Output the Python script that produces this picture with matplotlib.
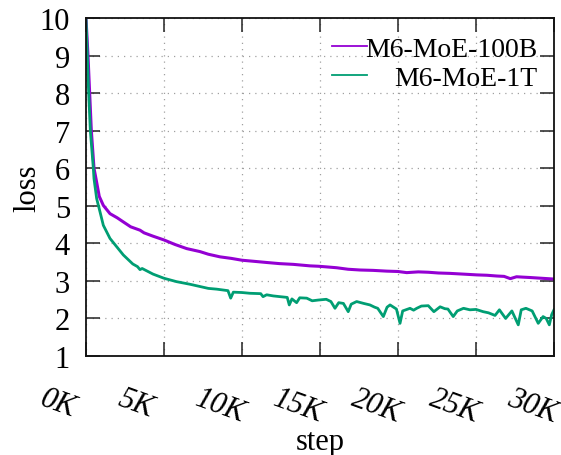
import matplotlib
matplotlib.use("Agg")
from matplotlib import pyplot as plt
from matplotlib import transforms

# loss curves (step, loss)
steps_100b = [0, 128, 235, 342, 513, 641, 850, 1111, 1538, 2000, 2393, 2864, 3462, 3718,
              4300, 5000, 5700, 6453, 7308, 7840, 8590, 9300, 10000, 10800, 11580, 12400,
              13290, 14360, 14890, 15500, 16070, 16800, 17560, 18400, 19270, 20000, 20560,
              21300, 21940, 22600, 23330, 24200, 25040, 25700, 26330, 26800, 27200, 27600,
              28000, 28460, 29200, 29960]
loss_100b = [10.0, 9.0, 8.0, 7.0, 6.0, 5.72, 5.25, 5.01, 4.79, 4.68, 4.57, 4.44, 4.35, 4.28,
             4.19, 4.09, 3.97, 3.86, 3.78, 3.71, 3.64, 3.60, 3.55, 3.52, 3.49, 3.46,
             3.44, 3.40, 3.39, 3.37, 3.35, 3.31, 3.29, 3.28, 3.26, 3.25, 3.22,
             3.24, 3.23, 3.21, 3.20, 3.18, 3.16, 3.15, 3.13, 3.12, 3.06, 3.11,
             3.10, 3.09, 3.07, 3.05]

steps_1t = [0, 85, 171, 278, 470, 513, 684, 897, 1111, 1538, 2393, 3000, 3300, 3462, 3600,
            4300, 5000, 5800, 6667, 7840, 8378, 9100, 9275, 9445, 10000, 10510, 11200, 11350,
            11580, 12000, 12440, 12900, 13030, 13200, 13500, 13700, 14150, 14500, 14890, 15400,
            15700, 15960, 16200, 16500, 16810, 17000, 17350, 17800, 18200, 18500, 18700, 19060,
            19300, 19490, 19900, 20130, 20300, 20770, 21000, 21200, 21500, 21940, 22300, 22700,
            23000, 23200, 23540, 23800, 24200, 24610, 25000, 25460, 25800, 26220, 26500, 26900,
            27300, 27710, 27900, 28200, 28600, 28990, 29300, 29500, 29700, 29850, 30000]
loss_1t = [10.0, 9.0, 8.0, 7.0, 6.0, 5.72, 5.19, 4.84, 4.48, 4.13, 3.69, 3.45, 3.38, 3.30, 3.33,
           3.18, 3.07, 2.98, 2.91, 2.80, 2.78, 2.74, 2.54, 2.70, 2.69, 2.67, 2.66, 2.58,
           2.63, 2.60, 2.58, 2.56, 2.36, 2.52, 2.42, 2.55, 2.54, 2.47, 2.49, 2.51,
           2.45, 2.27, 2.42, 2.40, 2.18, 2.38, 2.45, 2.40, 2.36, 2.30, 2.27, 2.05,
           2.30, 2.36, 2.25, 1.87, 2.20, 2.27, 2.22, 2.27, 2.33, 2.34, 2.18, 2.31,
           2.26, 2.25, 2.05, 2.20, 2.27, 2.23, 2.24, 2.18, 2.15, 2.08, 2.23, 2.00,
           2.20, 1.83, 2.23, 2.27, 2.20, 1.87, 2.05, 2.00, 1.83, 2.10, 2.23]

series_names = ["M6-MoE-100B", "M6-MoE-1T"]
series_colors = ["#9400d3", "#009e73"]

xtick_vals = [0, 5000, 10000, 15000, 20000, 25000, 30000]
xtick_labels = ["0K", "5K", "10K", "15K", "20K", "25K", "30K"]
ytick_vals = list(range(1, 11))

plt.rcParams["font.family"] = ["Liberation Serif", "DejaVu Serif"]

fig = plt.figure(figsize=(5.61, 4.56), dpi=100)
ax = fig.add_axes([86 / 561, 1 - 357 / 456, 468 / 561, 338 / 456])

ax.plot(steps_100b, loss_100b, color=series_colors[0], lw=2.2, solid_joinstyle="round")
ax.plot(steps_1t, loss_1t, color=series_colors[1], lw=2.0, solid_joinstyle="round")

ax.set_xlim(0, 30000)
ax.set_ylim(1, 10)
ax.set_xticks(xtick_vals)
ax.set_xticklabels(xtick_labels, fontsize=22, style="italic", rotation=-20,
                   ha="left", va="top")
ax.set_yticks(ytick_vals)
ax.set_yticklabels([str(v) for v in ytick_vals], fontsize=22)

ax.tick_params(direction="in", length=10, width=1.1, top=True, right=True, color="#222222")
ax.tick_params(axis="y", pad=11.5)
ax.tick_params(axis="x", pad=19.5)

# shift the rotated x labels to the left like the reference
shift = transforms.ScaledTranslation(-50 / 100, 0, fig.dpi_scale_trans)
for lbl in ax.get_xticklabels():
    lbl.set_transform(lbl.get_transform() + shift)

ax.grid(True, color="#a0a0a0", lw=0.9, linestyle=(0, (1, 4)))
for sp in ax.spines.values():
    sp.set_linewidth(1.3)
    sp.set_color("#111111")

# key drawn by hand: sample on the left, text right-justified
key_rows = [0.916, 0.832]
for name, col, ky in zip(series_names, series_colors, key_rows):
    ax.plot([0.525, 0.600], [ky, ky], transform=ax.transAxes, color=col, lw=1.3)
    ax.text(0.964, ky - 0.029, name, transform=ax.transAxes, ha="right",
            va="baseline", fontsize=20)

fig.text(28 / 561, 1 - 188 / 456, "loss", rotation=90, ha="center", va="center", fontsize=22)
fig.text(320 / 561, 6 / 456, "step", ha="center", va="baseline", fontsize=22)

fig.savefig("out.png", dpi=100)
